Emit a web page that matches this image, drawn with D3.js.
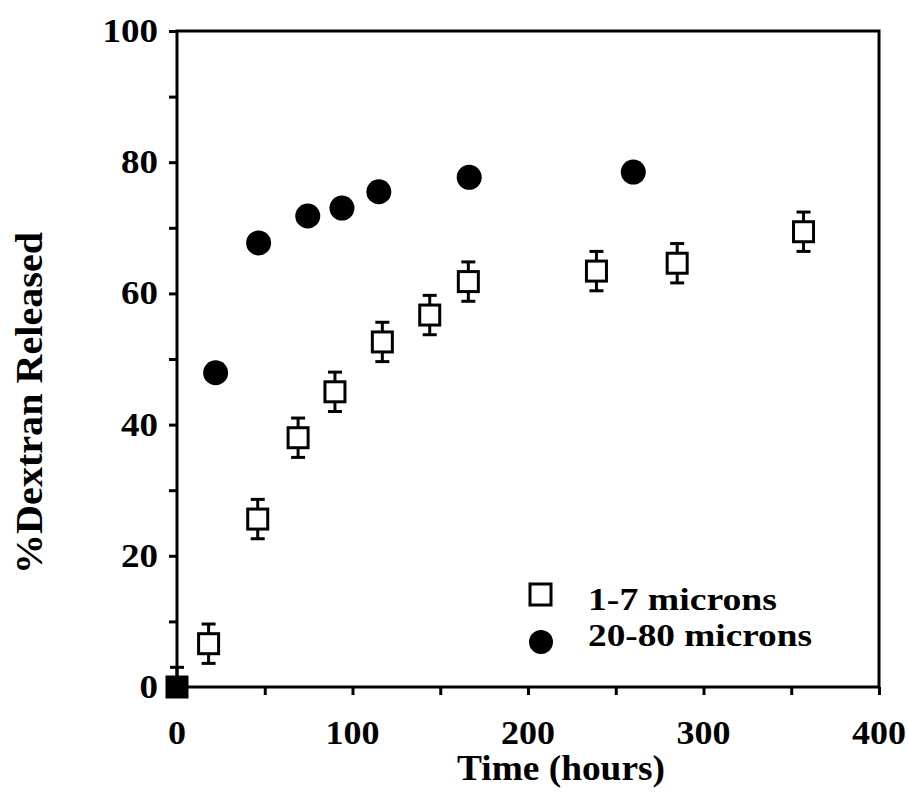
<!DOCTYPE html>
<html>
<head>
<meta charset="utf-8">
<script src="https://cdn.jsdelivr.net/npm/d3@7"></script>
<style>
  html, body { margin: 0; padding: 0; background: #fff; }
  svg text { font-family: "Liberation Serif", "Times New Roman", serif; font-weight: bold; fill: #000; }
</style>
</head>
<body>
<svg id="chart" width="908" height="796"></svg>
<script>
// Data
const smallTimes = [18, 46, 69, 90, 117, 144, 166, 239, 285, 357];
const smallValues = [6.6, 25.6, 38.0, 45.0, 52.6, 56.7, 61.8, 63.4, 64.6, 69.4];
const smallErrors = [3, 3, 3, 3, 3, 3, 3, 3, 3, 3];

const largeTimes = [22, 46.5, 74.5, 94, 115, 166.5, 260];
const largeValues = [47.9, 67.7, 71.8, 73.0, 75.5, 77.7, 78.5];

const originTimes = [0];
const originValues = [0];
const originErrorsUp = [3];
const originErrorsDown = [0];

const xTicks = [0, 100, 200, 300, 400];
const xMinorTicks = [50, 150, 250, 350];
const yTicks = [0, 20, 40, 60, 80, 100];
const yMinorTicks = [10, 30, 50, 70, 90];

const legendLabels = ["1-7 microns", "20-80 microns"];
const xTitle = "Time (hours)";
const yTitle = "%Dextran Released";

const svg = d3.select("#chart");
const x = d3.scaleLinear().domain([0, 400]).range([177, 879]);
const y = d3.scaleLinear().domain([0, 100]).range([687, 31]);

const axisW = 3;
const tickLen = 8;

// Frame
svg.append("rect")
  .attr("x", x(0)).attr("y", y(100))
  .attr("width", x(400) - x(0)).attr("height", y(0) - y(100))
  .attr("fill", "none").attr("stroke", "#000").attr("stroke-width", axisW);

// X axis ticks (outward, below)
const xAxis = d3.axisBottom(x).tickValues(xTicks.concat(xMinorTicks)).tickSize(tickLen).tickFormat("");
const gx = svg.append("g").attr("transform", `translate(0,${y(0)})`).call(xAxis);
gx.select(".domain").remove();
gx.selectAll(".tick line").attr("stroke", "#000").attr("stroke-width", axisW);

// X tick labels
svg.append("g").selectAll("text").data(xTicks).join("text")
  .attr("x", d => x(d)).attr("y", 744)
  .attr("text-anchor", "middle").attr("font-size", 34)
  .attr("textLength", 54).attr("lengthAdjust", "spacingAndGlyphs")
  .attr("textLength", d => String(d).length * 18)
  .text(d => d);

// Y axis ticks (outward, left)
const yAxis = d3.axisLeft(y).tickValues(yTicks.concat(yMinorTicks)).tickSize(tickLen).tickFormat("");
const gy = svg.append("g").attr("transform", `translate(${x(0)},0)`).call(yAxis);
gy.select(".domain").remove();
gy.selectAll(".tick line").attr("stroke", "#000").attr("stroke-width", axisW);

// Y tick labels
svg.append("g").selectAll("text").data(yTicks).join("text")
  .attr("x", 158).attr("y", d => y(d) + 11)
  .attr("text-anchor", "end").attr("font-size", 34)
  .attr("lengthAdjust", "spacingAndGlyphs")
  .attr("textLength", d => String(d).length * 18.5)
  .text(d => d);

// Axis titles
svg.append("text")
  .attr("x", 457).attr("y", 780)
  .attr("text-anchor", "start").attr("font-size", 35)
  .attr("textLength", 208).attr("lengthAdjust", "spacingAndGlyphs")
  .text(xTitle);

svg.append("text")
  .attr("transform", `translate(42,403) rotate(-90)`)
  .attr("text-anchor", "middle").attr("font-size", 37)
  .attr("textLength", 342).attr("lengthAdjust", "spacingAndGlyphs")
  .text(yTitle);

// Error bars helper
function errorBars(g, times, values, errUp, errDown, capW) {
  const data = times.map((t, i) => ({ t, v: values[i], eu: errUp[i], ed: errDown[i] }));
  const eg = g.append("g").attr("stroke", "#000").attr("stroke-width", 3);
  eg.selectAll("line.v").data(data).join("line").attr("class", "v")
    .attr("x1", d => x(d.t)).attr("x2", d => x(d.t))
    .attr("y1", d => y(d.v + d.eu)).attr("y2", d => y(d.v - d.ed));
  eg.selectAll("line.ct").data(data.filter(d => d.eu > 0)).join("line").attr("class", "ct")
    .attr("x1", d => x(d.t) - capW / 2).attr("x2", d => x(d.t) + capW / 2)
    .attr("y1", d => y(d.v + d.eu)).attr("y2", d => y(d.v + d.eu));
  eg.selectAll("line.cb").data(data.filter(d => d.ed > 0)).join("line").attr("class", "cb")
    .attr("x1", d => x(d.t) - capW / 2).attr("x2", d => x(d.t) + capW / 2)
    .attr("y1", d => y(d.v - d.ed)).attr("y2", d => y(d.v - d.ed));
  return data;
}

const sq = 20; // square inner size (stroke 3 -> outer ~23)
const plot = svg.append("g");

// Small particles: open squares with error bars
const smallData = errorBars(plot, smallTimes, smallValues, smallErrors, smallErrors, 14);
plot.append("g").selectAll("rect").data(smallData).join("rect")
  .attr("x", d => x(d.t) - sq / 2).attr("y", d => y(d.v) - sq / 2)
  .attr("width", sq).attr("height", sq)
  .attr("fill", "#fff").attr("stroke", "#000").attr("stroke-width", 3);

// Origin point: filled square
const originData = errorBars(plot, originTimes, originValues, originErrorsUp, originErrorsDown, 14);
plot.append("g").selectAll("rect").data(originData).join("rect")
  .attr("x", d => x(d.t) - 11.5).attr("y", d => y(d.v) - 11.5)
  .attr("width", 23).attr("height", 23)
  .attr("fill", "#000");

// Large particles: filled circles
const largeData = largeTimes.map((t, i) => ({ t, v: largeValues[i] }));
plot.append("g").selectAll("circle").data(largeData).join("circle")
  .attr("cx", d => x(d.t)).attr("cy", d => y(d.v)).attr("r", 12.5)
  .attr("fill", "#000");

// Legend
const lg = svg.append("g");
lg.append("rect").attr("x", 530).attr("y", 584).attr("width", 21).attr("height", 21)
  .attr("fill", "#fff").attr("stroke", "#000").attr("stroke-width", 3);
lg.append("circle").attr("cx", 541).attr("cy", 642).attr("r", 12).attr("fill", "#000");
lg.selectAll("text").data(legendLabels).join("text")
  .attr("x", 588).attr("y", (d, i) => 610 + i * 36)
  .attr("font-size", 32)
  .attr("textLength", (d, i) => i === 0 ? 189 : 224).attr("lengthAdjust", "spacingAndGlyphs")
  .text(d => d);
</script>
</body>
</html>
